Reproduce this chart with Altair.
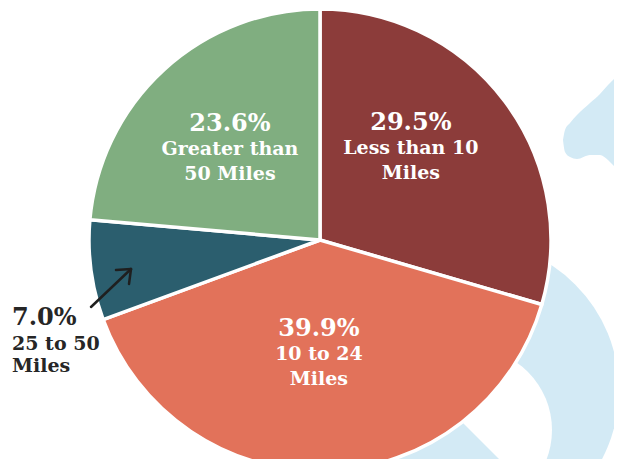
import math
import altair as alt
import pandas as pd

# ---------------- data ----------------
categories = ["Less than 10 Miles", "10 to 24 Miles", "25 to 50 Miles", "Greater than 50 Miles"]
values = [29.5, 39.9, 7.0, 23.6]
pct_labels = ["29.5%", "39.9%", "7.0%", "23.6%"]
name_line1 = ["Less than 10", "10 to 24", "25 to 50", "Greater than"]
name_line2 = ["Miles", "Miles", "Miles", "50 Miles"]
colors = ["#8C3C3A", "#E2725A", "#2B5E6E", "#80AE80"]

df = pd.DataFrame({
    "category": categories,
    "value": values,
    "idx": list(range(len(categories))),
    "pct": pct_labels,
    "line1": name_line1,
    "line2": name_line2,
})

# ---------------- layout ----------------
FONT = "DejaVu Serif"
BLUE = "#D3EAF5"
CX, CY, R = 320, 240, 231
W, H = 606, 451
# scales map page-pixel coordinates (page margin 8px) onto the plot area
XS = alt.Scale(domain=[8, 8 + W], nice=False, zero=False)
YS = alt.Scale(domain=[8, 8 + H], nice=False, zero=False, reverse=True)

# label placement: (radius from centre, angle nudge in degrees from slice middle)
LABEL_LAYOUT = {
    "Less than 10 Miles": (125, -6.5),
    "10 to 24 Miles": (120, 2.5),
    "25 to 50 Miles": (327, -12.1),
    "Greater than 50 Miles": (124, -4.1),
}
OUTSIDE = "25 to 50 Miles"

# decorative background shapes (page pixel coordinates)
RING = dict(cx=470, cy=390, r=149)
HOLE = dict(cx=470, cy=430, r=82)
BLOB_X = [563, 565, 570, 577, 590, 600, 608, 613, 622]
BLOB_TOP = [140, 130, 123, 115, 103, 94, 85, 80, 72]
BLOB_BOT = [140, 152, 157, 159, 155, 155, 160, 165, 173]
ARROW = [(91, 307, 131, 269), (131, 269, 116, 270), (131, 269, 129, 284)]


def case_expr(idx):
    s = "0"
    for k, v in reversed(list(LABEL_LAYOUT.items())):
        s = f"(datum.category === '{k}' ? {v[idx]} : {s})"
    return s


def xd(v):
    return alt.XDatum(v, type="quantitative", scale=XS, axis=None)


def yd(v):
    return alt.YDatum(v, type="quantitative", scale=YS, axis=None)


dummy = pd.DataFrame({"d": [0]})

ring = alt.Chart(dummy).mark_arc(
    theta=0, theta2=2 * math.pi, outerRadius=RING["r"], color=BLUE, strokeWidth=0
).encode(x=xd(RING["cx"]), y=yd(RING["cy"]))

hole = alt.Chart(dummy).mark_arc(
    theta=7 * math.pi / 4, theta2=11 * math.pi / 4, outerRadius=HOLE["r"], color="white", strokeWidth=0
).encode(x=xd(HOLE["cx"]), y=yd(HOLE["cy"]))

blob_df = pd.DataFrame({"bx": BLOB_X, "bt": BLOB_TOP, "bb": BLOB_BOT})
blob = alt.Chart(blob_df).mark_area(color=BLUE, interpolate="monotone").encode(
    x=alt.X("bx:Q", scale=XS, axis=None),
    y=alt.Y("bt:Q", scale=YS, axis=None),
    y2="bb:Q",
)

pie = alt.Chart(df).mark_arc(outerRadius=R, stroke="white", strokeWidth=3.5).encode(
    theta=alt.Theta("value:Q", stack=True),
    color=alt.Color("category:N", scale=alt.Scale(domain=categories, range=colors), legend=None),
    order=alt.Order("idx:Q", sort="ascending"),
    x=xd(CX),
    y=yd(CY),
)

base = (
    alt.Chart(df)
    .transform_joinaggregate(total="sum(value)")
    .transform_window(cum="sum(value)", sort=[alt.SortField("idx")], frame=[None, 0])
    .transform_calculate(
        mid=f"(datum.cum - datum.value/2)/datum.total*2*PI + ({case_expr(1)})*PI/180",
        lr=case_expr(0),
    )
    .transform_calculate(
        lx=f"{CX} + datum.lr*sin(datum.mid)",
        ly=f"{CY} - datum.lr*cos(datum.mid)",
    )
)

pos = dict(
    x=alt.X("lx:Q", scale=XS, axis=None),
    y=alt.Y("ly:Q", scale=YS, axis=None),
)

inner = base.transform_filter(f"datum.category !== '{OUTSIDE}'")
outer = base.transform_filter(f"datum.category === '{OUTSIDE}'")

txt = dict(font=FONT, fontWeight="bold", baseline="alphabetic")
in_pct = inner.mark_text(fontSize=24, color="white", align="center", dy=-24, **txt).encode(text="pct:N", **pos)
in_l1 = inner.mark_text(fontSize=19, color="white", align="center", dy=0, **txt).encode(text="line1:N", **pos)
in_l2 = inner.mark_text(fontSize=19, color="white", align="center", dy=25, **txt).encode(text="line2:N", **pos)

DARK = "#262626"
out_pct = outer.mark_text(fontSize=24, color=DARK, align="left", dy=-25, **txt).encode(text="pct:N", **pos)
out_l1 = outer.mark_text(fontSize=19, color=DARK, align="left", dy=0, **txt).encode(text="line1:N", **pos)
out_l2 = outer.mark_text(fontSize=19, color=DARK, align="left", dy=22, **txt).encode(text="line2:N", **pos)

arrow_df = pd.DataFrame(ARROW, columns=["x1", "y1", "x2", "y2"])
arrow = alt.Chart(arrow_df).mark_rule(color="#1f1f1f", strokeWidth=2.5, strokeCap="round").encode(
    x=alt.X("x1:Q", scale=XS, axis=None),
    y=alt.Y("y1:Q", scale=YS, axis=None),
    x2="x2:Q",
    y2="y2:Q",
)

chart = (
    alt.layer(ring, hole, blob, pie, arrow, in_pct, in_l1, in_l2, out_pct, out_l1, out_l2)
    .resolve_scale(x="shared", y="shared")
    .properties(width=W, height=H, padding=0, autosize=alt.AutoSizeParams(type="none"), background="white")
    .configure_view(stroke=None)
)

chart.save("out.html", embed_options={"renderer": "svg", "actions": False})
